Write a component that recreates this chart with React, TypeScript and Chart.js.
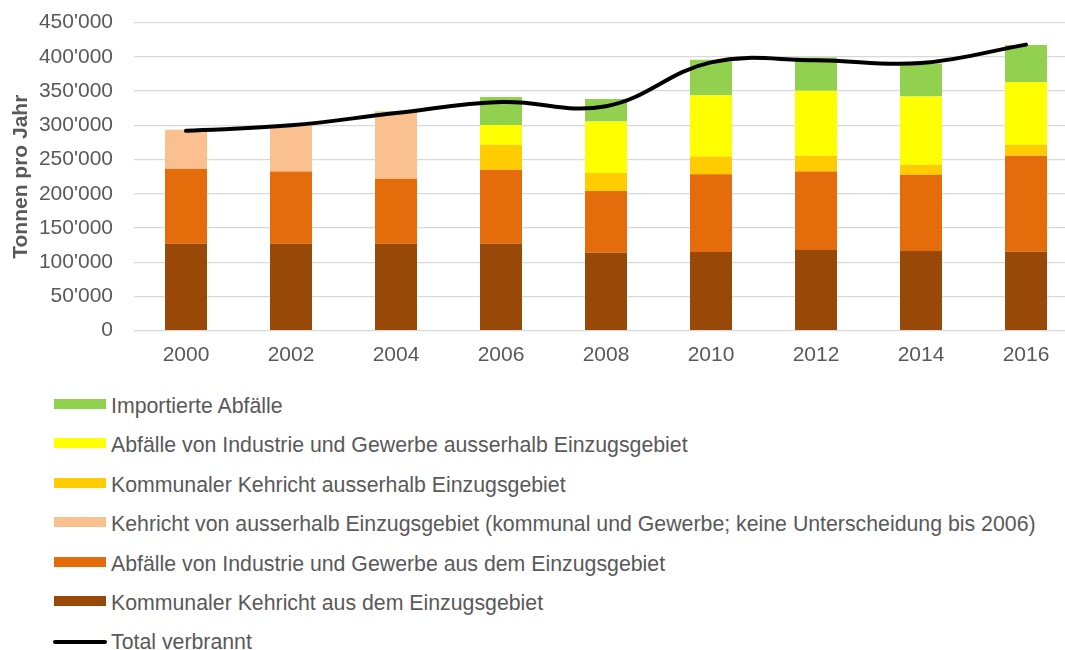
import React, { useEffect, useRef } from "react";
import { Chart, registerables } from "chart.js";

Chart.register(...registerables);

const years = ["2000", "2002", "2004", "2006", "2008", "2010", "2012", "2014", "2016"];

const kommunalIntern = [127000, 127000, 127000, 127000, 114000, 115000, 118000, 116500, 115500];
const industrieIntern = [109500, 105500, 95000, 108000, 90000, 113500, 114500, 111500, 140000];
const kehrichtExternAlt = [57000, 68500, 98500, null, null, null, null, null, null];
const kommunalExtern = [null, null, null, 36500, 26500, 26000, 23000, 14500, 16000];
const industrieExtern = [null, null, null, 29000, 75000, 89500, 95000, 99500, 92000];
const importiert = [null, null, null, 41000, 33000, 52000, 48500, 48500, 54000];
const totalVerbrannt = [292000, 300000, 318000, 334000, 328000, 392000, 395000, 391000, 418000];

const yTicks = [0, 50000, 100000, 150000, 200000, 250000, 300000, 350000, 400000, 450000];

const labelImportiert = "Importierte Abfälle";
const labelIndustrieExtern = "Abfälle von Industrie und Gewerbe ausserhalb Einzugsgebiet";
const labelKommunalExtern = "Kommunaler Kehricht ausserhalb Einzugsgebiet";
const labelKehrichtExternAlt =
  "Kehricht von ausserhalb Einzugsgebiet (kommunal und Gewerbe; keine Unterscheidung bis 2006)";
const labelIndustrieIntern = "Abfälle von Industrie und Gewerbe aus dem Einzugsgebiet";
const labelKommunalIntern = "Kommunaler Kehricht aus dem Einzugsgebiet";
const labelTotal = "Total verbrannt";

const FONT = '"Liberation Sans", Arial, sans-serif';
const TEXT = "#595959";

const barSeries = [
  { label: labelKommunalIntern, data: kommunalIntern, color: "#984807" },
  { label: labelIndustrieIntern, data: industrieIntern, color: "#E46C0A" },
  { label: labelKehrichtExternAlt, data: kehrichtExternAlt, color: "#FAC090" },
  { label: labelKommunalExtern, data: kommunalExtern, color: "#FFCC00" },
  { label: labelIndustrieExtern, data: industrieExtern, color: "#FFFF00" },
  { label: labelImportiert, data: importiert, color: "#92D050" },
];

const legendItems = [
  { label: labelImportiert, color: "#92D050", line: false },
  { label: labelIndustrieExtern, color: "#FFFF00", line: false },
  { label: labelKommunalExtern, color: "#FFCC00", line: false },
  { label: labelKehrichtExternAlt, color: "#FAC090", line: false },
  { label: labelIndustrieIntern, color: "#E46C0A", line: false },
  { label: labelKommunalIntern, color: "#984807", line: false },
  { label: labelTotal, color: "#000000", line: true },
];

const fmt = (v: number) => String(v).replace(/\B(?=(\d{3})+(?!\d))/g, "'");

export default function App() {
  const ref = useRef<HTMLCanvasElement | null>(null);

  useEffect(() => {
    if (!ref.current) return;
    const chart = new Chart(ref.current, {
      type: "bar",
      data: {
        labels: years,
        datasets: [
          ...barSeries.map((s) => ({
            type: "bar" as const,
            label: s.label,
            data: s.data,
            backgroundColor: s.color,
            borderWidth: 0,
            stack: "bars",
            order: 1,
            barPercentage: 0.4,
            categoryPercentage: 1.0,
          })),
          {
            type: "line" as const,
            label: labelTotal,
            data: totalVerbrannt,
            borderColor: "#000000",
            borderWidth: 4,
            tension: 0.4,
            pointRadius: 0,
            borderCapStyle: "round",
            borderJoinStyle: "round",
            fill: false,
            stack: "total",
            order: 0,
          } as any,
        ],
      },
      options: {
        responsive: false,
        animation: false,
        layout: { padding: { top: 22.7, right: 1.5, left: 0, bottom: 0 } },
        plugins: {
          legend: { display: false },
          tooltip: { enabled: false },
        },
        scales: {
          x: {
            stacked: true,
            grid: { display: false, drawTicks: false },
            border: { display: false },
            ticks: {
              color: TEXT,
              font: { family: FONT, size: 21 },
              padding: 12,
              maxRotation: 0,
            },
            afterFit: (scale: any) => {
              scale.height = 380 - 330.7;
              scale.paddingLeft = 0;
              scale.paddingRight = 0;
            },
          },
          y: {
            stacked: true,
            min: 0,
            max: 450000,
            afterBuildTicks: (scale: any) => {
              scale.ticks = yTicks.map((v) => ({ value: v }));
            },
            grid: { color: "#D9D9D9", lineWidth: 1.3, drawTicks: false },
            border: { display: false },
            ticks: {
              color: TEXT,
              font: { family: FONT, size: 21 },
              padding: 20.5,
              callback: (v: any) => fmt(Number(v)),
            },
            title: {
              display: true,
              text: "Tonnen pro Jahr",
              color: TEXT,
              font: { family: FONT, size: 21, weight: "bold" },
              padding: { top: 8.4, bottom: 0 },
            },
            afterFit: (scale: any) => {
              scale.width = 133.5;
              scale.paddingTop = 0;
              scale.paddingBottom = 0;
            },
          },
        },
      } as any,
    });
    return () => chart.destroy();
  }, []);

  const rowTop = 394;
  const rowStep = 39.4;

  return (
    <div
      style={{
        position: "fixed",
        left: 0,
        top: 0,
        width: 1065,
        height: 650,
        overflow: "hidden",
        background: "#ffffff",
      }}
    >
      <canvas
        ref={ref}
        width={1080}
        height={380}
        style={{ position: "absolute", left: 0, top: 0, width: 1080, height: 380 }}
      />
      {legendItems.map((it, i) => {
        const top = rowTop + i * rowStep;
        return (
          <div key={it.label} style={{ position: "absolute", left: 0, top, height: 24, width: 1065 }}>
            {it.line ? (
              <div
                style={{
                  position: "absolute",
                  left: 53,
                  top: 11.75 - 2.25,
                  width: 54,
                  height: 4.5,
                  borderRadius: 2.25,
                  background: it.color,
                }}
              />
            ) : (
              <div
                style={{
                  position: "absolute",
                  left: 54,
                  top: 5,
                  width: 52,
                  height: 10,
                  background: it.color,
                }}
              />
            )}
            <span
              style={{
                position: "absolute",
                left: 111,
                top: 0,
                fontFamily: FONT,
                fontSize: 21.3,
                lineHeight: "24px",
                color: TEXT,
                whiteSpace: "nowrap",
              }}
            >
              {it.label}
            </span>
          </div>
        );
      })}
    </div>
  );
}
